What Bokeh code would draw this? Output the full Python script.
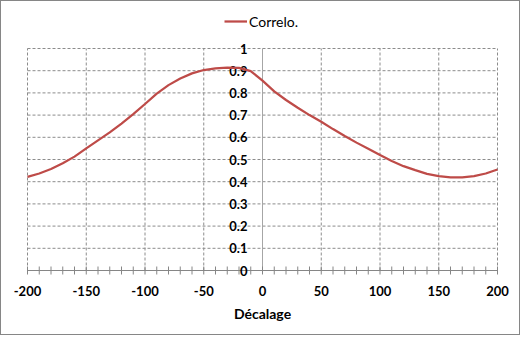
from bokeh.plotting import figure
from bokeh.models import Range1d, Legend, LegendItem
from bokeh.core.properties import value
from bokeh.embed import file_html
from bokeh.resources import INLINE

# ---- data ----
lags = [-200, -190, -180, -170, -160, -150, -140, -130, -120, -110,
        -100, -90, -80, -70, -60, -50, -40, -30, -20, -10,
        0, 10, 20, 30, 40, 50, 60, 70, 80, 90,
        100, 110, 120, 130, 140, 150, 160, 170, 180, 190, 200]
correlo = [0.422, 0.437, 0.457, 0.483, 0.513, 0.550, 0.586, 0.622, 0.662, 0.704,
           0.750, 0.797, 0.835, 0.865, 0.888, 0.903, 0.910, 0.914, 0.913, 0.898,
           0.855, 0.807, 0.768, 0.733, 0.700, 0.670, 0.637, 0.606, 0.576, 0.548,
           0.520, 0.493, 0.470, 0.452, 0.435, 0.425, 0.420, 0.420, 0.425, 0.437, 0.455]
x_ticks = [-200, -150, -100, -50, 0, 50, 100, 150, 200]
x_minor_ticks = list(range(-200, 201, 10))
x_labels = ["-200", "-150", "-100", "-50", "0", "50", "100", "150", "200"]
y_ticks = [0, 0.1, 0.2, 0.3, 0.4, 0.5, 0.6, 0.7, 0.8, 0.9, 1.0]
y_labels = ["0", "0.1", "0.2", "0.3", "0.4", "0.5", "0.6", "0.7", "0.8", "0.9", "1"]
series_name = "Correlo."
x_title = "Décalage"

# ---- layout (pixels on the 520x335 canvas inside a 1px border) ----
W, H = 520, 335
PLOT_L, PLOT_W = 26, 470     # plot area left edge and width
PLOT_T, PLOT_H = 47, 222     # plot area top edge and height
X0, X1 = x_ticks[0], x_ticks[-1]
Y0, Y1 = y_ticks[0], y_ticks[-1]
sx = (X1 - X0) / PLOT_W      # data units per pixel
sy = (Y1 - Y0) / PLOT_H
xr = Range1d(X0 - PLOT_L * sx, X1 + (W - PLOT_L - PLOT_W) * sx)
yr = Range1d(Y0 - (H - PLOT_T - PLOT_H) * sy, Y1 + PLOT_T * sy)

FONT = "Lato"
GRID = "#8c8c8c"
AXIS = "#868686"
RED = "#BE4B48"

p = figure(width=W, height=H, output_backend="svg", toolbar_location=None,
           x_range=xr, y_range=yr, x_axis_location=None, y_axis_location=None,
           min_border=0)
p.styles = {"border": "1px solid #868686"}
p.outline_line_color = None
p.grid.visible = False
p.background_fill_color = "white"
p.border_fill_color = "white"

# dashed grid
gy = [t for t in y_ticks if t != Y0]
p.segment(x0=[X0] * len(gy), x1=[X1] * len(gy), y0=gy, y1=gy,
          line_color=GRID, line_dash="3 2", line_width=1)
gx = [t for t in x_ticks if t != 0]
p.segment(x0=gx, x1=gx, y0=[Y0] * len(gx), y1=[Y1] * len(gx),
          line_color=GRID, line_dash="3 2", line_width=1)

# axes: horizontal at y=0, vertical at x=0
p.segment(x0=[X0], x1=[X1], y0=[0], y1=[0], line_color=AXIS, line_width=1)
p.segment(x0=[0], x1=[0], y0=[Y0], y1=[Y1], line_color="#a6a6a6", line_width=1)

# cross tick marks on the x axis
t = 4 * sy
p.segment(x0=x_minor_ticks, x1=x_minor_ticks,
          y0=[-t] * len(x_minor_ticks), y1=[t] * len(x_minor_ticks),
          line_color=AXIS, line_width=1)

# tick labels
p.text(x=x_ticks, y=[0] * len(x_ticks), text=x_labels,
       text_align="center", text_baseline="middle", y_offset=20,
       text_font=value(FONT), text_font_style="bold", text_font_size="13px",
       text_color="black")
p.text(x=[0] * len(y_ticks), y=y_ticks, text=y_labels,
       text_align="right", text_baseline="middle", x_offset=-15,
       text_font=value(FONT), text_font_style="bold", text_font_size="13px",
       text_color="black")
p.text(x=[0], y=[0], text=[x_title],
       text_align="center", text_baseline="middle", y_offset=43,
       text_font=value(FONT), text_font_style="bold", text_font_size="14px",
       text_color="black")

r = p.line(lags, correlo, line_color=RED, line_width=2.25)

legend = Legend(items=[LegendItem(label=series_name, renderers=[r])],
                location=(223, H - 30), orientation="horizontal",
                border_line_color=None, background_fill_alpha=0,
                padding=0, margin=0, spacing=0,
                glyph_width=23, glyph_height=20, label_height=20,
                label_standoff=2, label_text_font=FONT,
                label_text_font_size="14px", label_text_color="black")
p.add_layout(legend, "center")

open("out.html", "w").write(file_html(p, INLINE))
